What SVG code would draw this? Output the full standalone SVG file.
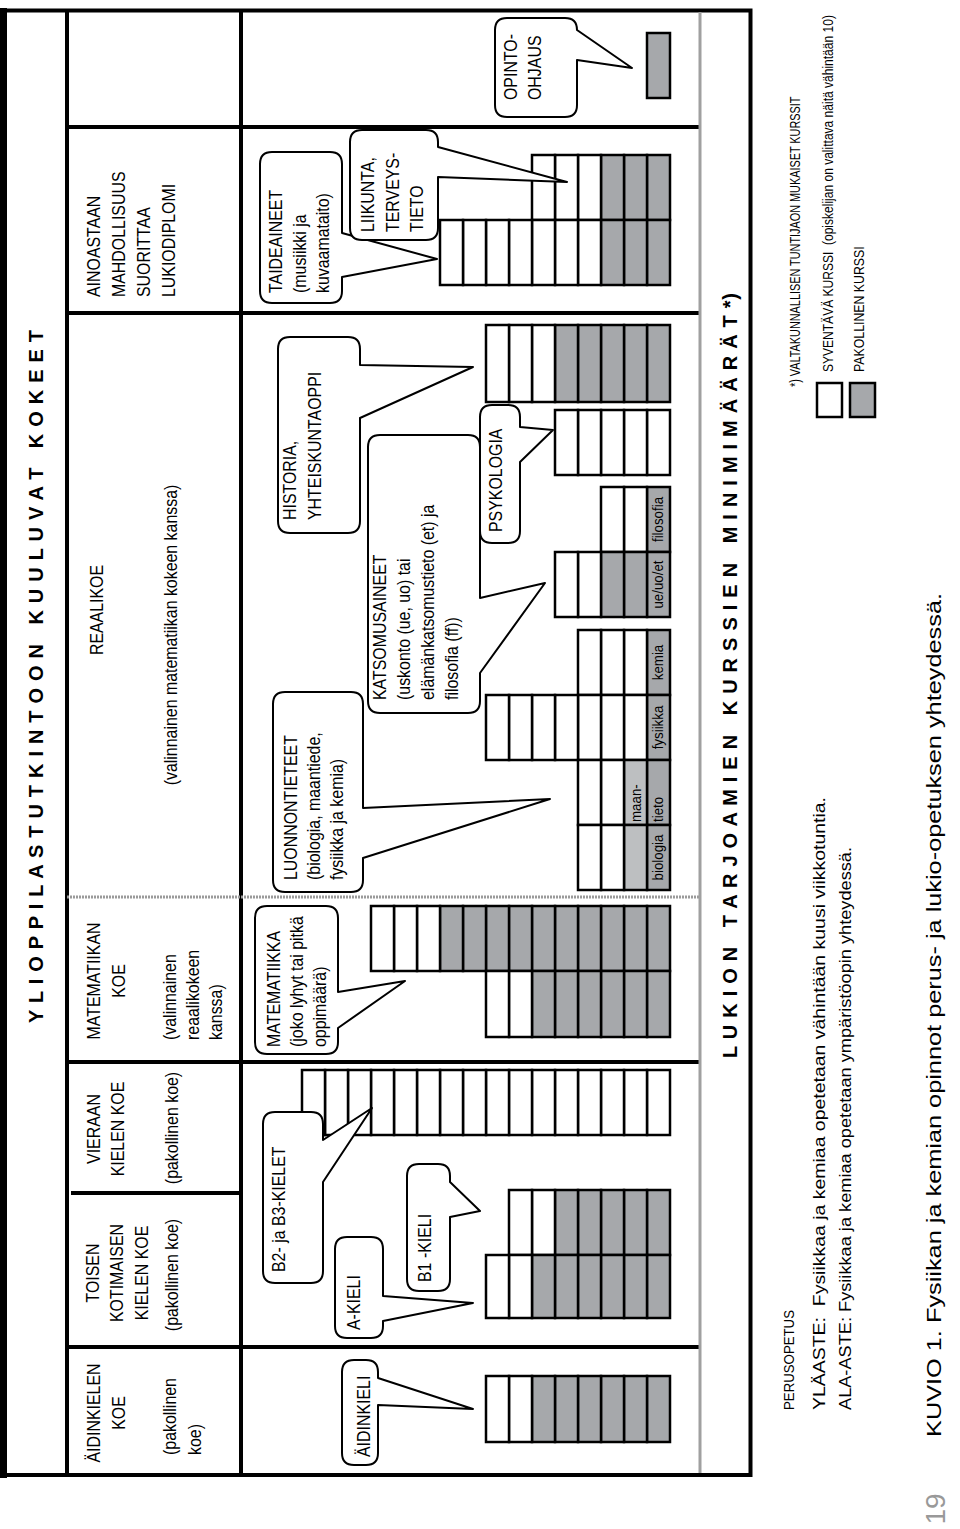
<svg xmlns="http://www.w3.org/2000/svg" width="960" height="1529" viewBox="0 0 960 1529">
<style>
text{font-family:"Liberation Sans",Arial,sans-serif;fill:#000}
.t{font-size:18.5px}
.c{text-anchor:middle}
.s{font-size:15.5px}
.h{font-weight:bold;font-size:20px}
.w{fill:#fff;stroke:#000;stroke-width:2.5}
.g{fill:#a6a8ab;stroke:#000;stroke-width:2.5}
.lg{fill:#bdbfc1;stroke:#000;stroke-width:2.5}
.bub{fill:#fff;stroke:#000;stroke-width:2;stroke-linejoin:round}
.ln{stroke:#000;stroke-width:4;fill:none}
</style>
<rect width="960" height="1529" fill="#fff"/>

<g id="frame">
<rect x="0" y="8" width="7" height="1470" fill="#000"/>
<path class="ln" d="M0 10.5H750.5V1475H0"/>
<path class="ln" d="M67 10V1475M241 10V1475"/>
<path class="ln" d="M67 127H700M67 313H700M67 1062H700M67 1347H700M71 1193H241"/>
<path d="M67 897H700" stroke="#9a9a9a" stroke-width="3" stroke-dasharray="2 1" fill="none"/>
<path d="M700 12V1473" stroke="#a0a0a0" stroke-width="3" fill="none"/>
</g>

<g id="titles">
<text class="h" xml:space="preserve" transform="matrix(0,-1,1,0,43,1023)" textLength="693" lengthAdjust="spacing">Y L I O P P I L A S T U T K I N T O O N   K U U L U V A T   K O K E E T</text>
<text class="h" xml:space="preserve" transform="matrix(0,-1,1,0,737,1058)" textLength="765" lengthAdjust="spacing">L U K I O N   T A R J O A M I E N   K U R S S I E N   M I N I M I M Ä Ä R Ä T *)</text>
</g>

<g id="header-aidinkieli">
<text class="t c" transform="matrix(0,-.86,1,0,100,1413)">ÄIDINKIELEN<tspan x="0" y="25">KOE</tspan></text>
<text class="t" transform="matrix(0,-.86,1,0,176,1455)">(pakollinen<tspan x="0" y="25">koe)</tspan></text>
</g>
<g id="header-toinen-kotimainen">
<text class="t c" transform="matrix(0,-.86,1,0,99,1273)">TOISEN<tspan x="0" y="24">KOTIMAISEN</tspan><tspan x="0" y="49">KIELEN KOE</tspan></text>
<text class="t c" transform="matrix(0,-.86,1,0,178,1275)">(pakollinen koe)</text>
</g>
<g id="header-vieras-kieli">
<text class="t c" transform="matrix(0,-.86,1,0,100,1129)">VIERAAN<tspan x="0" y="24">KIELEN KOE</tspan></text>
<text class="t c" transform="matrix(0,-.86,1,0,178,1128)">(pakollinen koe)</text>
</g>
<g id="header-matematiikka">
<text class="t c" transform="matrix(0,-.86,1,0,100,981)">MATEMATIIKAN<tspan x="0" y="25">KOE</tspan></text>
<text class="t" transform="matrix(0,-.86,1,0,176,1040)">(valinnainen<tspan x="0" y="23">reaalikokeen</tspan><tspan x="0" y="46">kanssa)</tspan></text>
</g>
<g id="header-reaali">
<text class="t c" transform="matrix(0,-.86,1,0,103,610)">REAALIKOE</text>
<text class="t c" transform="matrix(0,-.86,1,0,177,635)">(valinnainen matematiikan kokeen kanssa)</text>
</g>
<g id="header-lukiodiplomi">
<text class="t" transform="matrix(0,-.86,1,0,100,297)">AINOASTAAN<tspan x="0" y="25">MAHDOLLISUUS</tspan><tspan x="0" y="50">SUORITTAA</tspan><tspan x="0" y="75">LUKIODIPLOMI</tspan></text>
</g>

<g id="opinto-ohjaus">
<g transform="translate(0,33)"><rect x="647" y="0" width="23" height="65" class="g"/></g>
<path class="bub" d="M507 18H565Q577 18 577 30L632 68L577 60V105Q577 117 565 117H507Q495 117 495 105V30Q495 18 507 18Z"/>
<text class="t" transform="matrix(0,-.86,1,0,517,100)">OPINTO-<tspan x="0" y="24">OHJAUS</tspan></text>
</g>

<g id="liikunta">
<g transform="translate(0,155)">
<rect x="647" y="0" width="23" height="65" class="g"/><rect x="624" y="0" width="23" height="65" class="g"/><rect x="601" y="0" width="23" height="65" class="g"/>
<rect x="578" y="0" width="23" height="65" class="w"/><rect x="555" y="0" width="23" height="65" class="w"/><rect x="532" y="0" width="23" height="65" class="w"/>
</g>
</g>

<g id="taideaineet">
<g transform="translate(0,220)">
<rect x="647" y="0" width="23" height="65" class="g"/><rect x="624" y="0" width="23" height="65" class="g"/><rect x="601" y="0" width="23" height="65" class="g"/>
<rect x="578" y="0" width="23" height="65" class="w"/><rect x="555" y="0" width="23" height="65" class="w"/><rect x="532" y="0" width="23" height="65" class="w"/><rect x="509" y="0" width="23" height="65" class="w"/><rect x="486" y="0" width="23" height="65" class="w"/><rect x="463" y="0" width="23" height="65" class="w"/><rect x="440" y="0" width="23" height="65" class="w"/>
</g>
<path class="bub" d="M272 152H330Q342 152 342 164V233L437 259L342 277V291Q342 303 330 303H272Q260 303 260 291V164Q260 152 272 152Z"/>
<text class="t" transform="matrix(0,-.86,1,0,282,293)">TAIDEAINEET<tspan x="0" y="24">(musiikki ja</tspan><tspan x="0" y="47">kuvaamataito)</tspan></text>
</g>

<g id="liikunta-bubble">
<path class="bub" d="M362 130H426Q438 130 438 142V147L567 182L438 177V228Q438 240 426 240H362Q350 240 350 228V142Q350 130 362 130Z"/>
<text class="t" transform="matrix(0,-.86,1,0,374,232)">LIIKUNTA,<tspan x="0" y="25">TERVEYS-</tspan><tspan x="0" y="49">TIETO</tspan></text>
</g>

<g id="historia">
<g transform="translate(0,325)">
<rect x="647" y="0" width="23" height="77" class="g"/><rect x="624" y="0" width="23" height="77" class="g"/><rect x="601" y="0" width="23" height="77" class="g"/><rect x="578" y="0" width="23" height="77" class="g"/><rect x="555" y="0" width="23" height="77" class="g"/>
<rect x="532" y="0" width="23" height="77" class="w"/><rect x="509" y="0" width="23" height="77" class="w"/><rect x="486" y="0" width="23" height="77" class="w"/>
</g>
<path class="bub" d="M290 337H348Q360 337 360 349V365L473 367L360 418V521Q360 533 348 533H290Q278 533 278 521V349Q278 337 290 337Z"/>
<text class="t" transform="matrix(0,-.86,1,0,296,520)">HISTORIA,<tspan x="0" y="25">YHTEISKUNTAOPPI</tspan></text>
</g>

<g id="psykologia">
<g transform="translate(0,410)">
<rect x="647" y="0" width="23" height="65" class="w"/><rect x="624" y="0" width="23" height="65" class="w"/><rect x="601" y="0" width="23" height="65" class="w"/><rect x="578" y="0" width="23" height="65" class="w"/><rect x="555" y="0" width="23" height="65" class="w"/>
</g>
<path class="bub" d="M492 405H508Q520 405 520 417V427L553 430L520 462V531Q520 543 508 543H492Q480 543 480 531V417Q480 405 492 405Z"/>
<text class="t" transform="matrix(0,-.86,1,0,502,532)">PSYKOLOGIA</text>
</g>

<g id="katsomusaineet">
<g transform="translate(0,487)">
<rect x="647" y="0" width="23" height="65" class="g"/><rect x="624" y="0" width="23" height="65" class="w"/><rect x="601" y="0" width="23" height="65" class="w"/>
</g>
<g transform="translate(0,552)">
<rect x="647" y="0" width="23" height="65" class="g"/><rect x="624" y="0" width="23" height="65" class="g"/><rect x="601" y="0" width="23" height="65" class="g"/><rect x="578" y="0" width="23" height="65" class="w"/><rect x="555" y="0" width="23" height="65" class="w"/>
</g>
<text class="s c" transform="matrix(0,-.86,1,0,663,519.5)">filosofia</text>
<text class="s c" transform="matrix(0,-.86,1,0,663,584.5)">ue/uo/et</text>
<path class="bub" d="M380 435H468Q480 435 480 447V598L545 583L480 673V701Q480 713 468 713H380Q368 713 368 701V447Q368 435 380 435Z"/>
<text class="t" transform="matrix(0,-.86,1,0,386,700)">KATSOMUSAINEET<tspan x="0" y="24">(uskonto (ue, uo) tai</tspan><tspan x="0" y="48">elämänkatsomustieto (et) ja</tspan><tspan x="0" y="72">filosofia (ff))</tspan></text>
</g>

<g id="luonnontieteet">
<g transform="translate(0,630)">
<rect x="647" y="0" width="23" height="65" class="g"/><rect x="624" y="0" width="23" height="65" class="w"/><rect x="601" y="0" width="23" height="65" class="w"/><rect x="578" y="0" width="23" height="65" class="w"/>
</g>
<g transform="translate(0,695)">
<rect x="647" y="0" width="23" height="65" class="g"/><rect x="624" y="0" width="23" height="65" class="w"/><rect x="601" y="0" width="23" height="65" class="w"/><rect x="578" y="0" width="23" height="65" class="w"/><rect x="555" y="0" width="23" height="65" class="w"/><rect x="532" y="0" width="23" height="65" class="w"/><rect x="509" y="0" width="23" height="65" class="w"/><rect x="486" y="0" width="23" height="65" class="w"/>
</g>
<g transform="translate(0,760)">
<rect x="647" y="0" width="23" height="65" class="g"/><rect x="624" y="0" width="23" height="65" class="lg"/><rect x="601" y="0" width="23" height="65" class="w"/><rect x="578" y="0" width="23" height="65" class="w"/>
</g>
<g transform="translate(0,825)">
<rect x="647" y="0" width="23" height="65" class="g"/><rect x="624" y="0" width="23" height="65" class="lg"/><rect x="601" y="0" width="23" height="65" class="w"/><rect x="578" y="0" width="23" height="65" class="w"/>
</g>
<text class="s c" transform="matrix(0,-.86,1,0,663,662.5)">kemia</text>
<text class="s c" transform="matrix(0,-.86,1,0,663,727.5)">fysiikka</text>
<text class="s" transform="matrix(0,-.86,1,0,641,822)">maan-</text>
<text class="s" transform="matrix(0,-.86,1,0,663,822)">tieto</text>
<text class="s c" transform="matrix(0,-.86,1,0,663,857.5)">biologia</text>
<path class="bub" d="M285 692H351Q363 692 363 704V808L550 799L363 858V880Q363 892 351 892H285Q273 892 273 880V704Q273 692 285 692Z"/>
<text class="t" transform="matrix(0,-.86,1,0,297,880)">LUONNONTIETEET<tspan x="0" y="23">(biologia, maantiede,</tspan><tspan x="0" y="46">fysiikka ja kemia)</tspan></text>
</g>

<g id="matematiikka">
<g transform="translate(0,906)">
<rect x="647" y="0" width="23" height="65" class="g"/><rect x="624" y="0" width="23" height="65" class="g"/><rect x="601" y="0" width="23" height="65" class="g"/><rect x="578" y="0" width="23" height="65" class="g"/><rect x="555" y="0" width="23" height="65" class="g"/><rect x="532" y="0" width="23" height="65" class="g"/><rect x="509" y="0" width="23" height="65" class="g"/><rect x="486" y="0" width="23" height="65" class="g"/><rect x="463" y="0" width="23" height="65" class="g"/><rect x="440" y="0" width="23" height="65" class="g"/>
<rect x="417" y="0" width="23" height="65" class="w"/><rect x="394" y="0" width="23" height="65" class="w"/><rect x="371" y="0" width="23" height="65" class="w"/>
</g>
<g transform="translate(0,971)">
<rect x="647" y="0" width="23" height="66" class="g"/><rect x="624" y="0" width="23" height="66" class="g"/><rect x="601" y="0" width="23" height="66" class="g"/><rect x="578" y="0" width="23" height="66" class="g"/><rect x="555" y="0" width="23" height="66" class="g"/><rect x="532" y="0" width="23" height="66" class="g"/>
<rect x="509" y="0" width="23" height="66" class="w"/><rect x="486" y="0" width="23" height="66" class="w"/>
</g>
<path class="bub" d="M267 906H326Q338 906 338 918V992L405 981L338 1028V1042Q338 1054 326 1054H267Q255 1054 255 1042V918Q255 906 267 906Z"/>
<text class="t" transform="matrix(0,-.86,1,0,280,1047)">MATEMATIIKKA<tspan x="0" y="23">(joko lyhyt tai pitkä</tspan><tspan x="0" y="46">oppimäärä)</tspan></text>
</g>

<g id="b2-b3-kielet">
<g transform="translate(0,1070)">
<rect x="647" y="0" width="23" height="65" class="w"/><rect x="624" y="0" width="23" height="65" class="w"/><rect x="601" y="0" width="23" height="65" class="w"/><rect x="578" y="0" width="23" height="65" class="w"/><rect x="555" y="0" width="23" height="65" class="w"/><rect x="532" y="0" width="23" height="65" class="w"/><rect x="509" y="0" width="23" height="65" class="w"/><rect x="486" y="0" width="23" height="65" class="w"/><rect x="463" y="0" width="23" height="65" class="w"/><rect x="440" y="0" width="23" height="65" class="w"/><rect x="417" y="0" width="23" height="65" class="w"/><rect x="394" y="0" width="23" height="65" class="w"/><rect x="371" y="0" width="23" height="65" class="w"/><rect x="348" y="0" width="23" height="65" class="w"/><rect x="325" y="0" width="23" height="65" class="w"/><rect x="302" y="0" width="23" height="65" class="w"/>
</g>
<path class="bub" d="M275 1112H311Q323 1112 323 1124V1140L372 1108L323 1182V1271Q323 1283 311 1283H275Q263 1283 263 1271V1124Q263 1112 275 1112Z"/>
<text class="t" transform="matrix(0,-.86,1,0,285,1272)">B2- ja B3-KIELET</text>
</g>

<g id="b1-kieli">
<g transform="translate(0,1190)">
<rect x="647" y="0" width="23" height="65" class="g"/><rect x="624" y="0" width="23" height="65" class="g"/><rect x="601" y="0" width="23" height="65" class="g"/><rect x="578" y="0" width="23" height="65" class="g"/><rect x="555" y="0" width="23" height="65" class="g"/>
<rect x="532" y="0" width="23" height="65" class="w"/><rect x="509" y="0" width="23" height="65" class="w"/>
</g>
<path class="bub" d="M419 1164H438Q450 1164 450 1176V1182L480 1211L450 1217V1279Q450 1291 438 1291H419Q407 1291 407 1279V1176Q407 1164 419 1164Z"/>
<text class="t" transform="matrix(0,-.86,1,0,431,1282)">B1 -KIELI</text>
</g>

<g id="a-kieli">
<g transform="translate(0,1255)">
<rect x="647" y="0" width="23" height="63" class="g"/><rect x="624" y="0" width="23" height="63" class="g"/><rect x="601" y="0" width="23" height="63" class="g"/><rect x="578" y="0" width="23" height="63" class="g"/><rect x="555" y="0" width="23" height="63" class="g"/><rect x="532" y="0" width="23" height="63" class="g"/>
<rect x="509" y="0" width="23" height="63" class="w"/><rect x="486" y="0" width="23" height="63" class="w"/>
</g>
<path class="bub" d="M347 1237H371Q383 1237 383 1249V1296L473 1303L383 1321V1326Q383 1338 371 1338H347Q335 1338 335 1326V1249Q335 1237 347 1237Z"/>
<text class="t" transform="matrix(0,-.86,1,0,360,1330)">A-KIELI</text>
</g>

<g id="aidinkieli">
<g transform="translate(0,1376)">
<rect x="647" y="0" width="23" height="66" class="g"/><rect x="624" y="0" width="23" height="66" class="g"/><rect x="601" y="0" width="23" height="66" class="g"/><rect x="578" y="0" width="23" height="66" class="g"/><rect x="555" y="0" width="23" height="66" class="g"/><rect x="532" y="0" width="23" height="66" class="g"/>
<rect x="509" y="0" width="23" height="66" class="w"/><rect x="486" y="0" width="23" height="66" class="w"/>
</g>
<path class="bub" d="M354 1360H366Q378 1360 378 1372V1378L473 1409L378 1405V1453Q378 1465 366 1465H354Q342 1465 342 1453V1372Q342 1360 354 1360Z"/>
<text class="t" transform="matrix(0,-.86,1,0,370,1457)">ÄIDINKIELI</text>
</g>

<g id="connectors"></g>

<g id="legend">
<text style="font-size:14.5px" transform="matrix(0,-.75,1,0,800,387)">*) VALTAKUNNALLISEN TUNTIJAON MUKAISET KURSSIT</text>
<rect x="817" y="383" width="25" height="34" class="w"/>
<text style="font-size:14.5px" xml:space="preserve" transform="matrix(0,-.83,1,0,833,372)">SYVENTÄVÄ KURSSI  (opiskelijan on valittava näitä vähintään 10)</text>
<rect x="850" y="383" width="25" height="34" class="g"/>
<text style="font-size:14.5px" transform="matrix(0,-.85,1,0,864,372)">PAKOLLINEN KURSSI</text>
</g>

<g id="perusopetus">
<text style="font-size:15px" transform="matrix(0,-1,1,0,794,1410)" textLength="100" lengthAdjust="spacingAndGlyphs">PERUSOPETUS</text>
<text style="font-size:17px" xml:space="preserve" transform="matrix(0,-1,1,0,825,1410)" textLength="613" lengthAdjust="spacingAndGlyphs">YLÄASTE:  Fysiikkaa ja kemiaa opetetaan vähintään kuusi viikkotuntia.</text>
<text style="font-size:17px" transform="matrix(0,-1,1,0,851,1410)" textLength="563" lengthAdjust="spacingAndGlyphs">ALA-ASTE: Fysiikkaa ja kemiaa opetetaan ympäristöopin yhteydessä.</text>
</g>

<g id="caption">
<text style="font-size:21px" transform="matrix(0,-1,1,0,941,1437)" textLength="844" lengthAdjust="spacingAndGlyphs">KUVIO 1. Fysiikan ja kemian opinnot perus- ja lukio-opetuksen yhteydessä.</text>
<text style="font-size:28px;fill:#999" text-anchor="middle" transform="matrix(0,-1,1,0,945,1509)">19</text>
</g>
</svg>
